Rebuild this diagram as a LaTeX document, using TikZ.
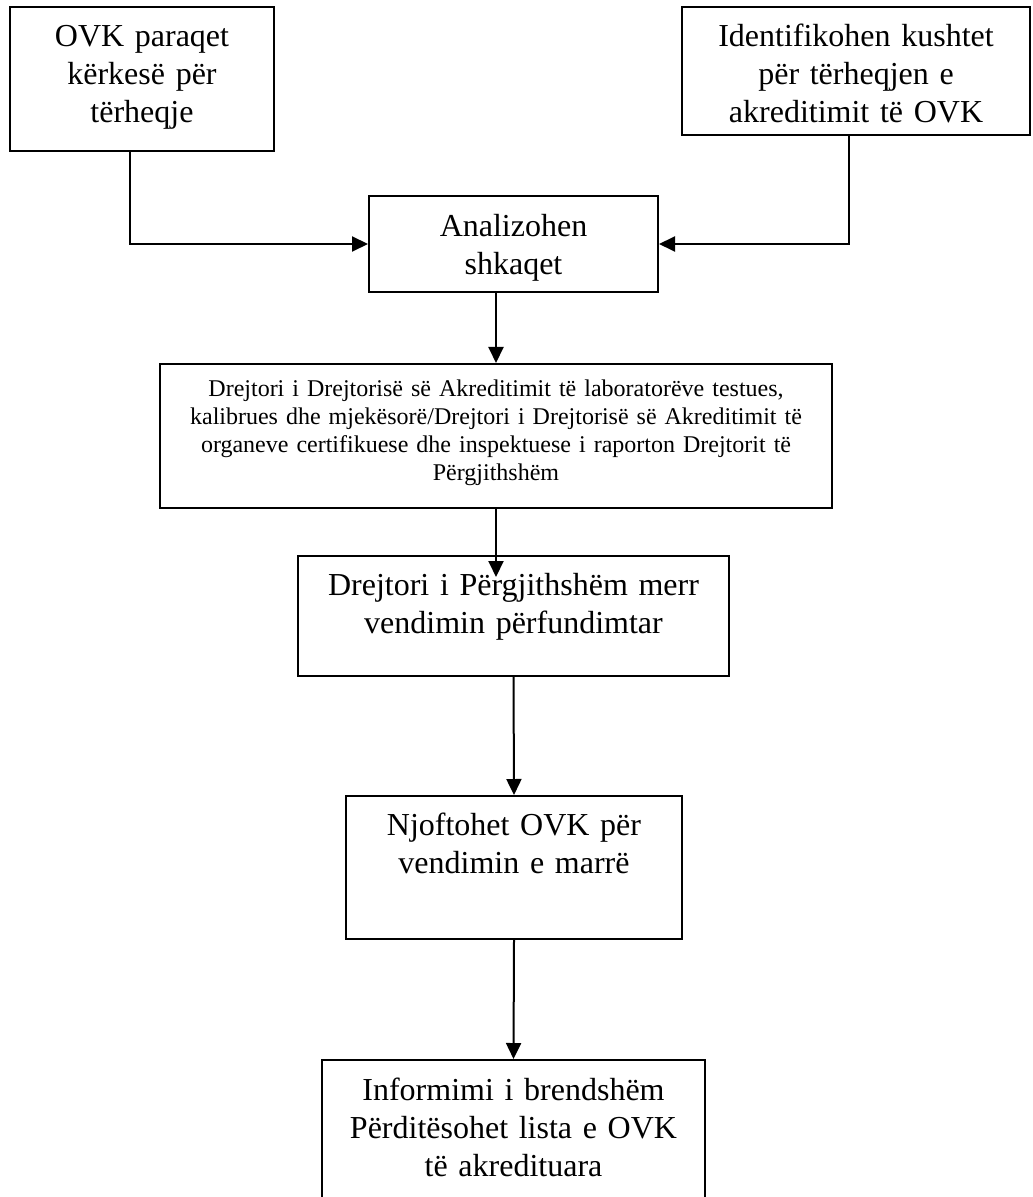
\documentclass[tikz,border=0pt]{standalone}
\usepackage{fontspec}
\setmainfont{Liberation Serif}
\usetikzlibrary{arrows.meta}

\begin{document}
\begin{tikzpicture}[x=0.5pt, y=-0.5pt, line width=1pt,
  flowbox/.style={draw, inner sep=0pt, align=center, font=\fontsize{16}{19}\selectfont},
  smalltext/.style={font=\fontsize{12}{13.85}\selectfont},
  arr/.style={-{Triangle[length=8pt, width=7.5pt]}}]

  \path [use as bounding box, clip] (0,0) rectangle (1032,1197);

  \node [flowbox, text width=132pt, text height=20pt, text depth=52pt] (req) at (142,79) {OVK paraqet\\kërkesë për\\tërheqje};
  \node [flowbox, text width=174pt, text height=20pt, text depth=44pt] (cond) at (856,71) {Identifikohen kushtet\\për tërheqjen e\\akreditimit të OVK};

  \node [flowbox, text width=144.5pt, text height=20.5pt, text depth=27.5pt] (anal) at (513.5,244) {Analizohen\\shkaqet};

  \node [flowbox, smalltext, text width=336pt, text height=16.5pt, text depth=55.5pt] (report) at (496,436) {Drejtori i Drejtorisë së Akreditimit të laboratorëve testues,\\kalibrues dhe mjekësorë/Drejtori i Drejtorisë së Akreditimit të\\organeve certifikuese dhe inspektuese i raporton Drejtorit të\\Përgjithshëm};

  \node [flowbox, text width=215.5pt, text height=19.5pt, text depth=40.5pt] (decide) at (513.5,616) {Drejtori i Përgjithshëm merr\\vendimin përfundimtar};
  \node [flowbox, text width=168pt, text height=19.5pt, text depth=52pt] (notify) at (514,867.5) {Njoftohet OVK për\\vendimin e marrë};
  \node [flowbox, text width=191.5pt, text height=20pt, text depth=65pt] (inform) at (513.5,1145) {Informimi i brendshëm\\Përditësohet lista e OVK\\të akredituara};

  \draw [arr] ([xshift=-6pt]req.south) |- (anal.west);
  \draw [arr] ([xshift=-3.5pt]cond.south) |- (anal.east);
  \draw [arr] (anal.south -| report.north) -- (report.north);
  \draw [arr] (report.south) -- ([yshift=-11pt]decide.north -| report.south);
  \draw [arr] (decide.south) -- (notify.north);
  \draw [arr] (notify.south) -- (inform.north);

\end{tikzpicture}
\end{document}
